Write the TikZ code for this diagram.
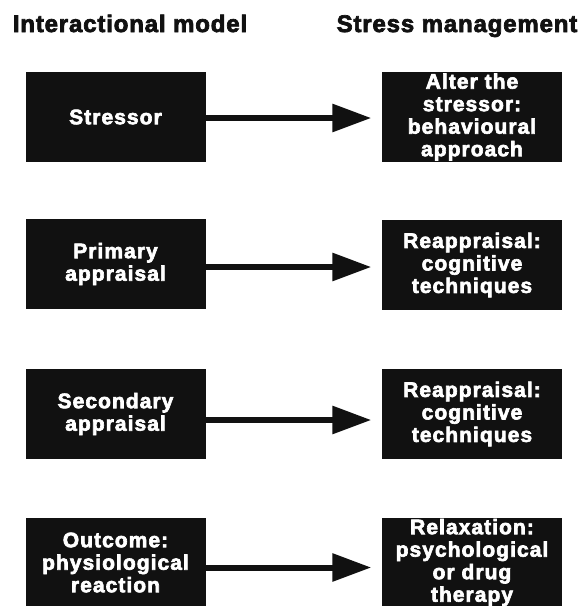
\documentclass[tikz,border=0pt]{standalone}
\usepackage{fontspec}
\newfontfamily\blk{Liberation Sans Bold}[FakeBold=3,LetterSpace=5]
\newfontfamily\blkh{Liberation Sans Bold}[FakeBold=3,LetterSpace=3.5]
\usetikzlibrary{arrows.meta}
\definecolor{boxfill}{HTML}{111111}
\tikzset{
  box/.style={draw=boxfill, fill=boxfill, text=white, minimum width=179pt, minimum height=89pt,
    inner sep=0pt, align=center, font=\blk\fontsize{21}{22.5}\selectfont},
  head/.style={anchor=base, text=boxfill, inner sep=0pt, font=\blkh\fontsize{24}{26}\selectfont},
  link/.style={line width=6pt, draw=boxfill, -{Triangle[length=39pt,width=27pt]}, shorten >=11pt}
}
\begin{document}
\begin{tikzpicture}[x=1pt,y=-1pt]
\useasboundingbox[fill=white] (0,0) rectangle (581,606);
\node[head] (h1) at (130,32) {Interactional model};
\node[head] (h2) at (457,32) {Stress management};

\node[box] (l1) at (115.5,117) {Stressor};
\node[box] (r1) at (472,117) {Alter the\\stressor:\\behavioural\\approach};
\node[box] (l2) at (115.5,264) {Primary\\appraisal};
\node[box] (r2) at (472,265) {Reappraisal:\\cognitive\\techniques};
\node[box] (l3) at (115.5,414) {Secondary\\appraisal};
\node[box] (r3) at (472,414) {Reappraisal:\\cognitive\\techniques};
\node[box] (l4) at (115.5,562.5) {Outcome:\\physiological\\reaction};
\node[box] (r4) at (472,562.5) {Relaxation:\\psychological\\or drug\\therapy};

\draw[link] ([yshift=-1pt]l1.east) -- ([yshift=-1pt]r1.west);
\draw[link] ([yshift=-3pt]l2.east) -- ([yshift=-3pt]l2.east -| r2.west);
\draw[link] ([yshift=-6pt]l3.east) -- ([yshift=-6pt]r3.west);
\draw[link] ([yshift=-5pt]l4.east) -- ([yshift=-5pt]r4.west);
\end{tikzpicture}
\end{document}
